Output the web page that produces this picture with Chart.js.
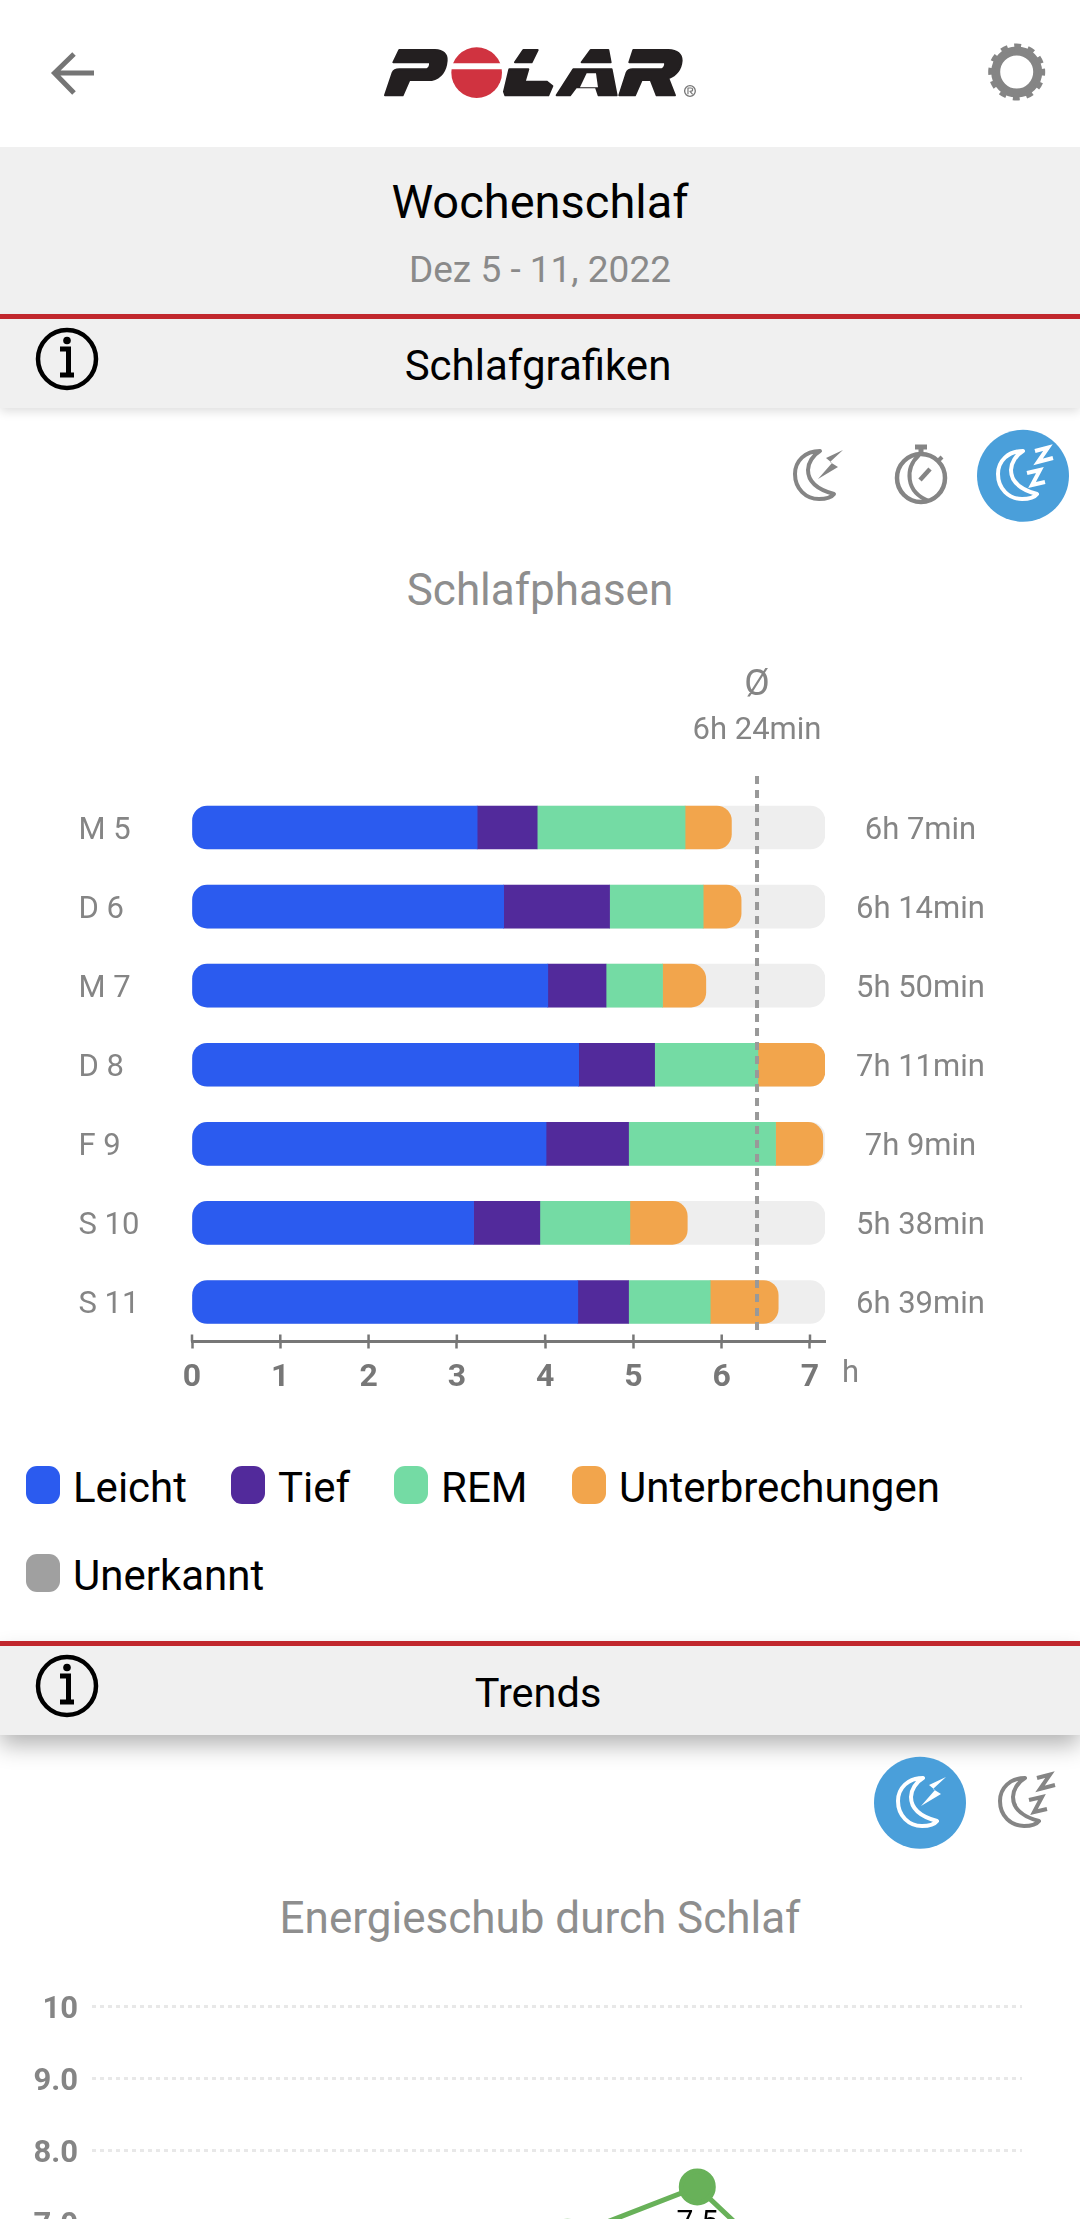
<!DOCTYPE html>
<html lang="de">
<head>
<meta charset="utf-8">
<title>Wochenschlaf</title>
<script src="https://cdn.jsdelivr.net/npm/chart.js@4"></script>
<style>
  html, body { margin: 0; width: 1080px; height: 2219px; overflow: hidden; background: #fff; font-family: Roboto, sans-serif; }
  .band { position: absolute; left: 0; width: 1080px; background: #f0f0f0; }
  .red { position: absolute; left: 0; width: 1080px; background: #c1272d; }
  .t { position: absolute; left: 0; width: 1080px; text-align: center; transform: translateY(-50%); white-space: nowrap; line-height: 1.2; }
  .lg-box { position: absolute; width: 34px; height: 38px; border-radius: 11px; }
  .lg-text { position: absolute; font-size: 42px; color: #000; transform: translateY(-50%); line-height: 1.2; white-space: nowrap; }
  canvas { position: absolute; left: 0; }
  svg { position: absolute; left: 0; top: 0; }
</style>
</head>
<body>
<div class="band" style="top:147px;height:171px"></div>
<div class="band" style="top:318px;height:90px;box-shadow:0 3px 10px rgba(0,0,0,.14)"></div>
<div class="red" style="top:314px;height:5px"></div>
<div class="band" style="top:1645px;height:90px;box-shadow:0 10px 22px rgba(0,0,0,.3)"></div>
<div class="red" style="top:1641px;height:5px"></div>

<div class="t" style="top:202px;font-size:47px;color:#000">Wochenschlaf</div>
<div class="t" style="top:270px;font-size:37px;color:#8a8a8a">Dez 5 - 11, 2022</div>
<div class="t" style="top:366px;left:-2px;font-size:42px;color:#000">Schlafgrafiken</div>
<div class="t" style="top:590px;font-size:44px;color:#8e8e8e">Schlafphasen</div>
<div class="t" style="top:1693px;left:-2px;font-size:41.500px;color:#000">Trends</div>
<div class="t" style="top:1918px;font-size:44px;color:#8e8e8e">Energieschub durch Schlaf</div>

<canvas id="phasesChart" width="1080" height="780" style="top:640px"></canvas>
<div id="legend"></div>
<canvas id="trendChart" width="1080" height="800" style="top:1960px"></canvas>

<svg width="1080" height="2219" viewBox="0 0 1080 2219" fill="none">
  <defs>
    <path id="moon" d="M8 -24 C-7 -24 -17 -14 -17 -1 C-17 14 -6 24 7 24 C13 24 19 23 22 19 C7 15 -4 8 -4 -5 C-4 -12 1 -20 8 -24 Z" stroke-width="4" stroke-linejoin="round"/>
    <path id="bolt" d="M31 -25 L14 -17 L20 -12 L6 4 L26 -8 L18 -13 Z" stroke="none"/>
    <path id="zz" d="M20 -24 L33 -27.500 L23 -13 L38 -17 M12 -2 L25 -5 L17 10 L30 7" stroke-width="4"/>
    <g id="info">
      <circle r="29" stroke="#000" stroke-width="4.5"/>
      <circle cx="0" cy="-18.500" r="3.800" fill="#000"/>
      <path d="M-7 -10 H1.500 V16 M-7 16 H7" stroke="#000" stroke-width="5"/>
    </g>
  </defs>

  <!-- header icons -->
  <path d="M94 73 H56 M74 54 L54.500 73 L74 93" stroke="#757575" stroke-width="5"/>
  <g transform="translate(1016.700 72)" stroke="#858585">
    <circle r="21" stroke-width="9"/>
    <circle r="25" stroke-width="7" stroke-dasharray="6.500 6.590" transform="rotate(-7)"/>
  </g>

  <!-- logo -->
  <g transform="translate(360 30) scale(.3333)" stroke-linejoin="round">
    <title>POLAR</title>
    <g fill="#231f20" stroke="#231f20" stroke-width="6">
      <path d="M118 60 L225 60 Q262 62 260 92 Q256 140 215 150 L148 150 L128 196 L75 196 L98 128 Q102 118 118 118 L200 118 Q212 112 210 97 L100 97 Z"/>
      <path d="M465 97 L490 60 L533 60 L515 97 Z"/>
      <path d="M448 118 L505 118 L494 155 L560 155 L577 168 L565 196 L436 196 L432 185 Z"/>
      <path d="M665 97 L692 60 L745 60 L752 97 Z"/>
      <path d="M640 118 L755 118 L770 196 L716 196 L708 172 L648 172 L630 196 L590 196 Z"/>
      <path d="M820 60 L925 60 Q965 62 965 92 Q962 130 925 145 L945 196 L890 196 L872 150 L845 150 L825 196 L778 196 L800 128 Q804 118 818 118 L905 118 Q918 112 915 97 L808 97 Z"/>
    </g>
    <path d="M660 172 L680 130 L708 130 L714 172 Z" fill="#fff"/>
    <circle cx="350" cy="128" r="76" fill="#d03340"/>
    <path d="M270 109 H432" stroke="#fff" stroke-width="18"/>
    <circle cx="990" cy="183" r="16" stroke="#777" stroke-width="4"/>
    <path d="M984 193 V174 H993 Q998 174 998 179 Q998 184 990 184 L998 193" stroke="#777" stroke-width="3.500"/>
  </g>

  <use href="#info" transform="translate(67 359)"/>
  <use href="#info" transform="translate(67 1686)"/>

  <!-- chart switchers, first row -->
  <g transform="translate(812 475)" stroke="#858585" color="#858585">
    <use href="#moon"/><use href="#bolt" fill="#858585"/>
  </g>
  <g transform="translate(921 478)" stroke="#858585">
    <circle r="24" stroke-width="4.500"/>
    <path d="M-6 -31 H6 M0 -31 V-24" stroke-width="5"/>
    <path d="M-2 -23 C-16 -10 -16 14 8 23" stroke-width="4"/>
    <path d="M-1 2 L9 -9" stroke-width="4.500"/>
    <path d="M17 -17 L21 -21" stroke-width="4"/>
  </g>
  <circle cx="1023" cy="475.700" r="46" fill="#4a9fda"/>
  <g transform="translate(1015 475)" stroke="#fff">
    <use href="#moon"/><use href="#zz"/>
  </g>

  <!-- chart switchers, second row -->
  <circle cx="920" cy="1802.700" r="46" fill="#4a9fda"/>
  <g transform="translate(915 1802)" stroke="#fff">
    <use href="#moon"/><use href="#bolt" fill="#fff"/>
  </g>
  <g transform="translate(1017 1802)" stroke="#858585">
    <use href="#moon"/><use href="#zz"/>
  </g>
</svg>

<script>
Chart.defaults.font.family = "Roboto, sans-serif";

// Schlafphasen, hours per night
const dayLabels = ["M 5", "D 6", "M 7", "D 8", "F 9", "S 10", "S 11"];
const totalLabels = ["6h 7min", "6h 14min", "5h 50min", "7h 11min", "7h 9min", "5h 38min", "6h 39min"];
const leicht = [3.23, 3.53, 4.03, 4.38, 4.01, 3.19, 4.37];
const tief = [0.68, 1.2, 0.66, 0.86, 0.935, 0.75, 0.575];
const rem = [1.675, 1.06, 0.64, 1.17, 1.665, 1.02, 0.925];
const unterbrechungen = [0.525, 0.43, 0.49, 0.76, 0.535, 0.65, 0.77];
const unerkannt = [0, 0, 0, 0, 0, 0, 0];
const maxHours = 7.17;
const avgHours = 6.4;
const avgLabel = "6h 24min";

// Energieschub durch Schlaf, most of the line is below the fold
const trendDays = [5, 6, 7, 8, 9, 10, 11];
const trendValues = [null, null, null, 6.8, 7.5, 5.8, null];

const grey = "#858585";
const axisGrey = "#777777";

const blue = "#2b5bef";
const purple = "#522a9b";
const green = "#74dba4";
const orange = "#f2a54c";
const unknownGrey = "#a0a0a0";
const R = 15;

// ticks go through the axis line in the reference, chart.js only draws them below it
const phaseExtras = {
  id: "phaseExtras",
  afterDatasetsDraw(chart) {
    const { ctx, chartArea, scales } = chart;
    const x = scales.x;
    const avgX = x.getPixelForValue(avgHours);

    ctx.save();
    ctx.strokeStyle = axisGrey;
    ctx.lineWidth = 2.5;
    x.ticks.forEach((t) => {
      const px = x.getPixelForValue(t.value);
      ctx.beginPath();
      ctx.moveTo(px, chartArea.bottom);
      ctx.lineTo(px, chartArea.bottom - 7);
      ctx.stroke();
    });

    ctx.strokeStyle = "#999999";
    ctx.lineWidth = 4;
    ctx.setLineDash([8, 6]);
    ctx.beginPath();
    ctx.moveTo(avgX, chartArea.top - 12);
    ctx.lineTo(avgX, chartArea.bottom - 6);
    ctx.stroke();
    ctx.setLineDash([]);

    ctx.fillStyle = grey;
    ctx.textAlign = "center";
    ctx.textBaseline = "middle";
    ctx.font = "37px Roboto";
    ctx.fillText("Ø", avgX, 46);
    ctx.font = "31px Roboto";
    ctx.fillText(avgLabel, avgX, 91);

    ctx.textAlign = "left";
    ctx.fillText("h", x.right + 17, 734);
    ctx.restore();
  },
};

new Chart(document.getElementById("phasesChart"), {
  type: "bar",
  data: {
    labels: dayLabels,
    datasets: [
      { label: "Leicht", data: leicht, backgroundColor: blue, borderRadius: { topLeft: R, bottomLeft: R }, order: 1 },
      { label: "Tief", data: tief, backgroundColor: purple, order: 1 },
      { label: "REM", data: rem, backgroundColor: green, order: 1 },
      { label: "Unterbrechungen", data: unterbrechungen, backgroundColor: orange, borderRadius: { topRight: R, bottomRight: R }, order: 1 },
      // no time was unrecognised this week; inflateAmount 0 stops a hairline at the bar end
      { label: "Unerkannt", data: unerkannt, backgroundColor: unknownGrey, inflateAmount: 0, order: 1 },
      // track behind the bars, on the right axis so it does not stack with them
      { label: "Gesamt", data: dayLabels.map(() => maxHours), yAxisID: "yRight", backgroundColor: "#eeeeee", borderRadius: R, order: 5 },
    ],
  },
  options: {
    indexAxis: "y",
    responsive: false,
    devicePixelRatio: 1,
    animation: false,
    grouped: false,
    barThickness: 43,
    borderSkipped: false,
    layout: { padding: { left: 78.5, top: 148 } },
    plugins: { legend: { display: false }, tooltip: { enabled: false } },
    scales: {
      x: {
        stacked: true,
        min: 0,
        max: maxHours,
        afterFit: (s) => { s.height = 78.5; },
        border: { color: axisGrey, width: 3 },
        grid: { drawOnChartArea: false, tickLength: 7, tickColor: axisGrey, tickWidth: 2.5 },
        ticks: { stepSize: 1, includeBounds: false, maxRotation: 0, color: axisGrey, padding: 10, font: { size: 32, weight: "bold" } },
      },
      y: {
        type: "category",
        stacked: true,
        offset: true,
        afterFit: (s) => { s.width = 113.5; },
        border: { display: false },
        grid: { display: false },
        ticks: { crossAlign: "far", labelOffset: 3.5, color: "#858585", font: { size: 31 } },
      },
      yRight: {
        type: "category",
        position: "right",
        labels: totalLabels,
        stacked: true,
        offset: true,
        afterFit: (s) => { s.width = 255; },
        border: { display: false },
        grid: { display: false },
        ticks: { crossAlign: "center", padding: 23, labelOffset: 3.5, color: "#858585", font: { size: 31 } },
      },
    },
  },
  plugins: [phaseExtras],
});

// legend
const legendItems = [
  ["Leicht", blue, 26, 73, 1466],
  ["Tief", purple, 231, 278, 1466],
  ["REM", green, 394, 441, 1466],
  ["Unterbrechungen", orange, 572, 619, 1466],
  ["Unerkannt", unknownGrey, 26, 73, 1554],
];
const legendEl = document.getElementById("legend");
legendItems.forEach(([name, color, boxX, textX, top]) => {
  legendEl.insertAdjacentHTML("beforeend",
    `<div class="lg-box" style="left:${boxX}px;top:${top}px;background:${color}"></div>` +
    `<div class="lg-text" style="left:${textX}px;top:${top + 22}px">${name}</div>`);
});

// value label under the point
const valueLabels = {
  id: "valueLabels",
  afterDatasetsDraw(chart) {
    const { ctx } = chart;
    const meta = chart.getDatasetMeta(0);
    ctx.save();
    ctx.fillStyle = "#000";
    ctx.font = "30px Roboto";
    ctx.textAlign = "center";
    ctx.textBaseline = "alphabetic";
    meta.data.forEach((pt, i) => {
      if (trendValues[i] === null) return;
      ctx.fillText(trendValues[i].toFixed(1), pt.x, pt.y + 44);
    });
    ctx.restore();
  },
};

new Chart(document.getElementById("trendChart"), {
  type: "line",
  data: {
    datasets: [{
      label: "Energieschub",
      data: trendDays.map((d, i) => ({ x: d, y: trendValues[i] })),
      borderColor: "#68b159",
      backgroundColor: "#68b159",
      borderWidth: 5,
      pointRadius: 16,
      tension: 0,
    }],
  },
  options: {
    responsive: false,
    devicePixelRatio: 1,
    animation: false,
    layout: { padding: { top: 46.7, bottom: 23.3, right: 58 } },
    plugins: { legend: { display: false }, tooltip: { enabled: false } },
    scales: {
      x: { type: "linear", display: false, min: 4.34, max: 11.5 },
      y: {
        min: 0,
        max: 10,
        afterFit: (s) => { s.width = 92; },
        border: { display: false, dash: [4, 4] },
        grid: { color: "#e8e8e8", lineWidth: 3, drawTicks: false },
        ticks: {
          stepSize: 1,
          padding: 14,
          labelOffset: 3.5,
          color: "#858585",
          font: { size: 31, weight: "bold" },
          callback: (v) => (v === 10 ? "10" : v.toFixed(1)),
        },
      },
    },
  },
  plugins: [valueLabels],
});
</script>
</body>
</html>
